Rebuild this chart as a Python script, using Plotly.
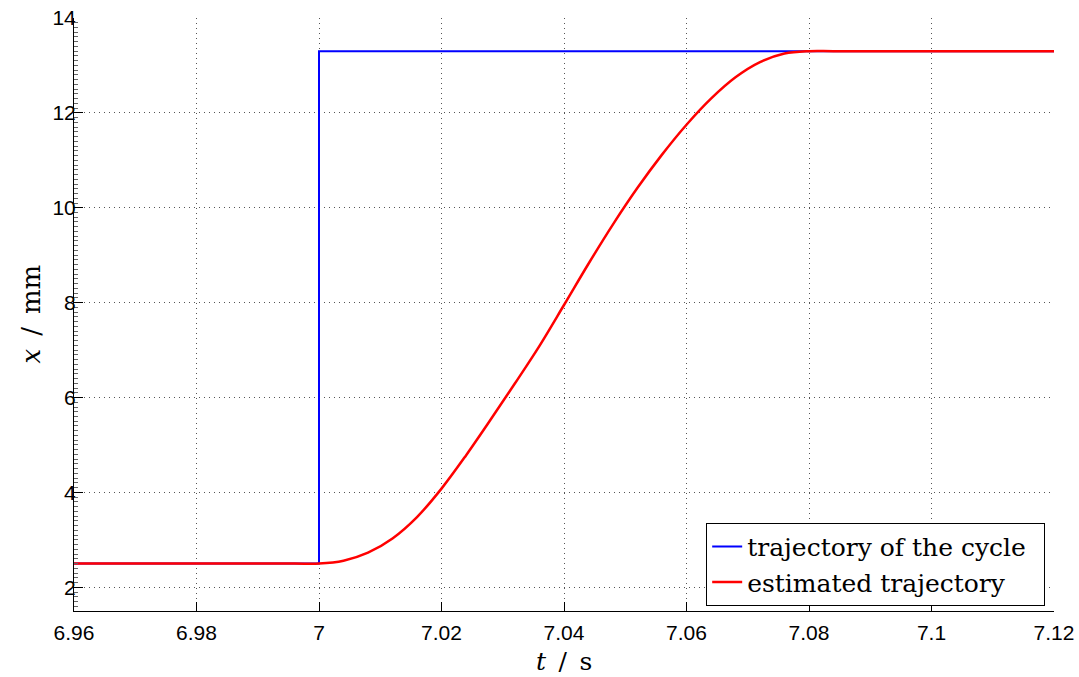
import plotly.graph_objects as go

# Commanded cycle trajectory: a step at t = 7 s
t_cycle = [6.96, 7.0, 7.0, 7.12]
x_cycle = [2.5, 2.5, 13.3, 13.3]

# Estimated trajectory (t in s, x in mm)
t_est = [6.96, 6.98, 6.996, 7.0, 7.004, 7.008, 7.012, 7.016, 7.02, 7.024,
         7.028, 7.032, 7.036, 7.04, 7.044, 7.048, 7.052, 7.056, 7.06,
         7.064, 7.068, 7.072, 7.076, 7.08, 7.084, 7.1, 7.12]
x_est = [2.5, 2.5, 2.5, 2.5, 2.56, 2.73, 3.03, 3.48, 4.08, 4.78,
         5.53, 6.30, 7.09, 7.95, 8.82, 9.65, 10.42, 11.12, 11.75,
         12.30, 12.75, 13.07, 13.25, 13.3, 13.3, 13.3, 13.3]

x_ticks = [6.96, 6.98, 7.0, 7.02, 7.04, 7.06, 7.08, 7.1, 7.12]
x_ticklabels = ["6.96", "6.98", "7", "7.02", "7.04", "7.06", "7.08", "7.1", "7.12"]
y_ticks = [2, 4, 6, 8, 10, 12, 14]

SERIF = "DejaVu Serif, serif"
PAD = "\u2002"  # fixed-width space keeps a margin inside the legend box

fig = go.Figure()
fig.add_trace(go.Scatter(
    x=t_cycle, y=x_cycle, mode="lines", name="trajectory of the cycle" + PAD,
    line=dict(color="#0000ff", width=2),
))
fig.add_trace(go.Scatter(
    x=t_est, y=x_est, mode="lines", name="estimated trajectory",
    line=dict(color="#ff0000", width=2.5, shape="spline", smoothing=1.0),
))

grid = dict(showgrid=True, gridcolor="#555555", gridwidth=1, griddash="1px,4px")

fig.update_layout(
    width=1079, height=677,
    margin=dict(l=74, r=25, t=18, b=66, autoexpand=False),
    paper_bgcolor="white", plot_bgcolor="white",
    font=dict(family="Liberation Sans, Arial, sans-serif", size=21, color="black"),
    showlegend=True,
    legend=dict(
        x=0.991, y=0.009, xanchor="right", yanchor="bottom",
        bgcolor="white", bordercolor="black", borderwidth=1,
        font=dict(family=SERIF, size=25, color="black"),
        tracegroupgap=0,
    ),
    xaxis=dict(
        range=[6.96, 7.12], tickvals=x_ticks, ticktext=x_ticklabels,
        ticks="inside", ticklen=9, tickwidth=1, tickcolor="black",
        showline=True, linecolor="black", linewidth=1, mirror=False,
        ticklabelstandoff=3, zeroline=False, automargin=False, **grid,
    ),
    yaxis=dict(
        range=[1.5, 14], tickvals=y_ticks,
        ticks="inside", ticklen=9, tickwidth=1, tickcolor="black",
        minor=dict(dtick=0.1, ticks="inside", ticklen=4, tickcolor="#666666", showgrid=False),
        showline=True, linecolor="black", linewidth=1, mirror=False,
        ticklabelstandoff=-7, zeroline=False, automargin=False, **grid,
    ),
    annotations=[
        dict(text="<i>t</i>\u2002/\u2002s", x=0.5, xref="paper", y=-0.086, yref="paper",
             xanchor="center", yanchor="middle", showarrow=False,
             font=dict(family=SERIF, size=25)),
        dict(text="<i>x</i>\u2002/\u2002mm", x=(30 - 74) / (1079 - 74 - 25), xref="paper",
             y=0.5, yref="paper", xanchor="center", yanchor="middle", showarrow=False,
             textangle=-90, font=dict(family=SERIF, size=26)),
    ],
)

fig.write_html("out.html")
